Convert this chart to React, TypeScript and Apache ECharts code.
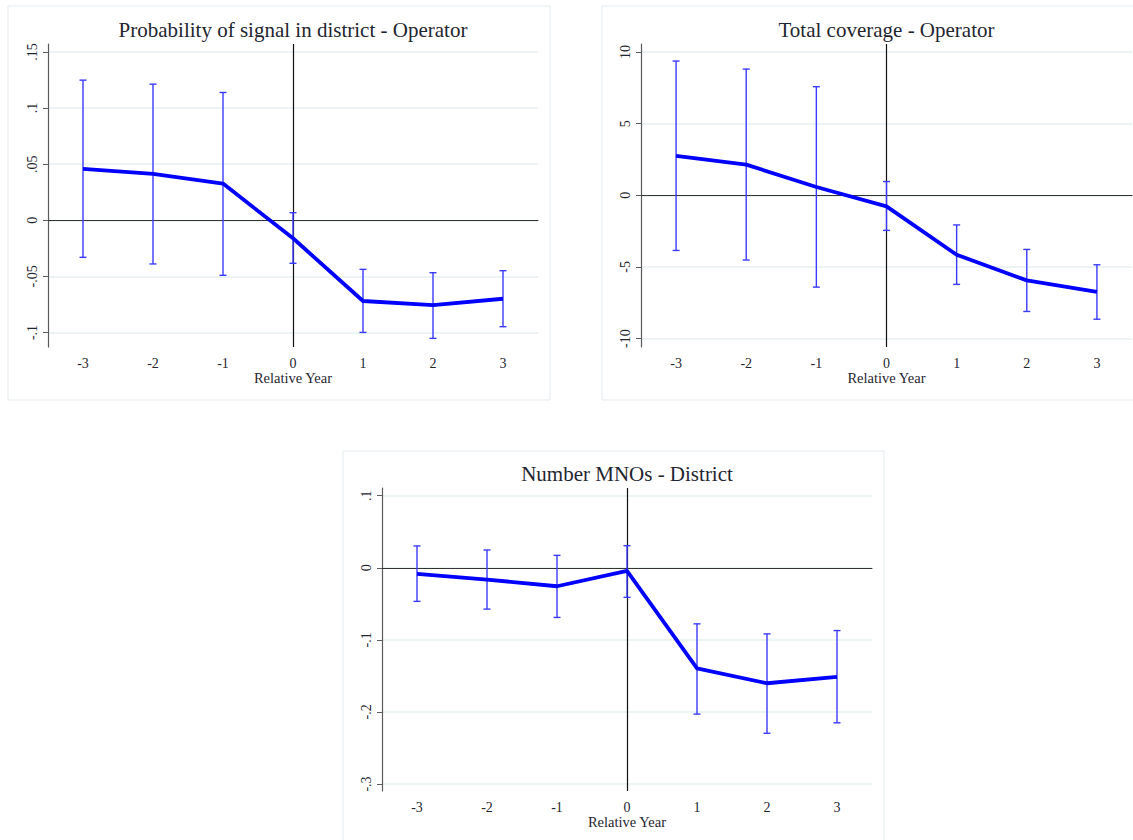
import React, { useEffect, useRef } from "react";
import * as echarts from "echarts";

// Event-study estimates by relative year
const years = ["-3", "-2", "-1", "0", "1", "2", "3"];

const signalCoef = [0.0458, 0.0413, 0.0327, -0.016, -0.0719, -0.0755, -0.0699];
const signalLow = [-0.033, -0.0389, -0.049, -0.0383, -0.0999, -0.1052, -0.0948];
const signalHigh = [0.1249, 0.1213, 0.1139, 0.0068, -0.0437, -0.0467, -0.0449];
const signalTicks = [-0.1, -0.05, 0, 0.05, 0.1, 0.15];

const coverageCoef = [2.75, 2.14, 0.58, -0.77, -4.15, -5.94, -6.74];
const coverageLow = [-3.85, -4.52, -6.41, -2.45, -6.22, -8.11, -8.65];
const coverageHigh = [9.37, 8.81, 7.58, 0.96, -2.07, -3.78, -4.85];
const coverageTicks = [-10, -5, 0, 5, 10];

const mnoCoef = [-0.0084, -0.0163, -0.0256, -0.0042, -0.1397, -0.1602, -0.1513];
const mnoLow = [-0.0466, -0.0573, -0.0689, -0.041, -0.203, -0.2296, -0.2151];
const mnoHigh = [0.0303, 0.0247, 0.0172, 0.0307, -0.0778, -0.0917, -0.0871];
const mnoTicks = [-0.3, -0.2, -0.1, 0, 0.1];

const FONT = "'Liberation Serif', 'DejaVu Serif', serif";
const TEXT = "#1f2630";
const BLUE = "#0000ff";
const CI_BLUE = "#3a3aff";

type Panel = {
  title: string;
  coef: number[];
  low: number[];
  high: number[];
  ticks: number[];
  min: number;
  max: number;
  grid: { left: number; top: number; width: number; height: number };
  frame: { x: number; y: number; width: number; height: number };
};

const panels: Panel[] = [
  {
    title: "Probability of signal in district - Operator",
    coef: signalCoef,
    low: signalLow,
    high: signalHigh,
    ticks: signalTicks,
    min: -0.1129,
    max: 0.1571,
    grid: { left: 48, top: 44, width: 490, height: 303 },
    frame: { x: 8, y: 6, width: 542, height: 394 },
  },
  {
    title: "Total coverage - Operator",
    coef: coverageCoef,
    low: coverageLow,
    high: coverageHigh,
    ticks: coverageTicks,
    min: -10.59,
    max: 10.56,
    grid: { left: 641, top: 44, width: 491, height: 303 },
    frame: { x: 602, y: 6, width: 540, height: 394 },
  },
  {
    title: "Number MNOs - District",
    coef: mnoCoef,
    low: mnoLow,
    high: mnoHigh,
    ticks: mnoTicks,
    min: -0.3097,
    max: 0.1107,
    grid: { left: 382, top: 488, width: 490, height: 303 },
    frame: { x: 343, y: 451, width: 541, height: 400 },
  },
];

// Stata-style number labels: ".05", "-.1", "0"
const fmt = (v: number) => {
  const s = String(Number(v.toFixed(4)));
  return s.replace(/^(-?)0\./, "$1.");
};

export default function App() {
  const ref = useRef<HTMLDivElement>(null);

  useEffect(() => {
    if (!ref.current) return;
    const chart = echarts.init(ref.current, null, { renderer: "svg" });

    const grids: any[] = [];
    const xAxes: any[] = [];
    const yAxes: any[] = [];
    const series: any[] = [];
    const graphics: any[] = [];

    panels.forEach((p, i) => {
      grids.push({ ...p.grid, containLabel: false });

      xAxes.push({
        type: "category",
        gridIndex: i,
        data: years,
        boundaryGap: true,
        name: "Relative Year",
        nameLocation: "middle",
        nameGap: 20,
        nameTextStyle: { fontFamily: FONT, fontSize: 14.5, color: TEXT },
        axisLine: { lineStyle: { color: "#5a5a5a", width: 1.2 } },
        axisTick: { alignWithLabel: true, length: 5, lineStyle: { color: "#5a5a5a" } },
        axisLabel: { margin: 9, fontFamily: FONT, fontSize: 14, color: TEXT },
        splitLine: { show: false },
      });

      yAxes.push({
        type: "value",
        gridIndex: i,
        min: p.min,
        max: p.max,
        axisLine: { show: true, lineStyle: { color: "#5a5a5a", width: 1.2 } },
        axisTick: {
          show: true,
          length: 5,
          customValues: p.ticks,
          lineStyle: { color: "#5a5a5a" },
        },
        axisLabel: {
          customValues: p.ticks,
          rotate: 90,
          margin: 9,
          fontFamily: FONT,
          fontSize: 14,
          color: TEXT,
          formatter: (v: number) => fmt(v),
        },
        splitLine: { show: true, lineStyle: { color: "#e6eff2", width: 1.5 } },
      });

      // confidence intervals with caps
      series.push({
        type: "custom",
        xAxisIndex: i,
        yAxisIndex: i,
        z: 3,
        data: years.map((_, k) => [k, p.low[k], p.high[k]]),
        renderItem: (params: any, api: any) => {
          const x = api.value(0);
          const lo = api.coord([x, api.value(1)]);
          const hi = api.coord([x, api.value(2)]);
          const cap = 3.5;
          const style = { stroke: CI_BLUE, lineWidth: 1.4 };
          return {
            type: "group",
            children: [
              { type: "line", shape: { x1: lo[0], y1: lo[1], x2: hi[0], y2: hi[1] }, style },
              { type: "line", shape: { x1: lo[0] - cap, y1: lo[1], x2: lo[0] + cap, y2: lo[1] }, style },
              { type: "line", shape: { x1: hi[0] - cap, y1: hi[1], x2: hi[0] + cap, y2: hi[1] }, style },
            ],
          };
        },
      });

      // point estimates, plus zero reference lines
      series.push({
        type: "line",
        xAxisIndex: i,
        yAxisIndex: i,
        z: 4,
        data: p.coef,
        symbol: "none",
        lineStyle: { color: BLUE, width: 3.8 },
        markLine: {
          silent: true,
          symbol: "none",
          label: { show: false },
          z: 1,
          data: [
            { yAxis: 0, lineStyle: { color: "#333333", width: 1.2, type: "solid" } },
            { xAxis: "0", lineStyle: { color: "#111111", width: 1.2, type: "solid" } },
          ],
        },
      });

      graphics.push({
        type: "rect",
        silent: true,
        z: -10,
        shape: { ...p.frame },
        style: { fill: "#ffffff", stroke: "#e3ebee", lineWidth: 1 },
      });
      graphics.push({
        type: "text",
        silent: true,
        x: p.grid.left + p.grid.width / 2,
        y: p.grid.top - 14,
        style: {
          text: p.title,
          fontFamily: FONT,
          fontSize: 21,
          fill: TEXT,
          align: "center",
          verticalAlign: "middle",
        },
      });
    });

    chart.setOption({
      animation: false,
      backgroundColor: "#ffffff",
      grid: grids,
      xAxis: xAxes,
      yAxis: yAxes,
      series,
      graphic: graphics,
    });

    return () => chart.dispose();
  }, []);

  return (
    <div
      ref={ref}
      style={{ position: "absolute", left: 0, top: 0, width: 1133, height: 840 }}
    />
  );
}
